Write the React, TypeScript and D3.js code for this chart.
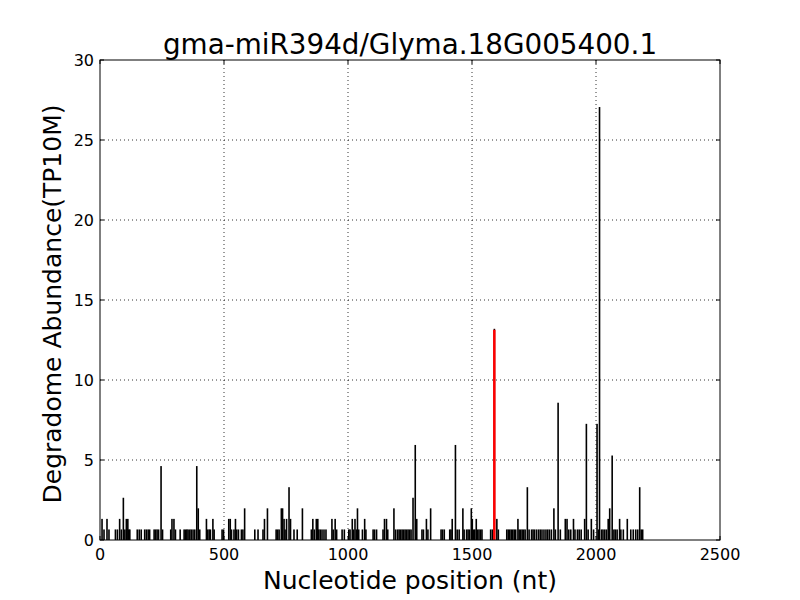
import React from "react";
import * as d3 from "d3";

const title = "gma-miR394d/Glyma.18G005400.1";
const xLabel = "Nucleotide position (nt)";
const yLabel = "Degradome Abundance(TP10M)";
const xTicks = [0, 500, 1000, 1500, 2000, 2500];
const yTicks = [0, 5, 10, 15, 20, 25, 30];

const positions = [
  8, 16, 28, 36, 62, 70, 79, 86, 94, 100, 106, 112, 116, 120, 150, 158, 166, 180, 187, 194, 200, 218, 224, 230, 236, 246, 252,
  285, 290, 298, 304, 323, 339, 345, 350, 355, 362, 368, 375, 382, 390, 396, 402, 429, 434, 440, 445, 455, 460, 492, 498,
  519, 525, 530, 540, 546, 551, 558, 570, 576, 583, 624, 637, 657, 663, 675, 710, 716, 722, 731, 736, 742, 746, 752, 762,
  768, 782, 795, 816, 852, 858, 864, 872, 878, 882, 888, 895, 903, 911, 935, 940, 948, 954, 976, 985, 1003, 1008, 1017,
  1022, 1028, 1034, 1038, 1043, 1058, 1067, 1072, 1101, 1107, 1115, 1141, 1147, 1155, 1160, 1185, 1192, 1200, 1206, 1212,
  1218, 1224, 1230, 1236, 1242, 1248, 1254, 1262, 1271, 1277, 1298, 1304, 1316, 1322, 1333, 1375, 1381, 1388, 1410, 1415,
  1420, 1433, 1440, 1448, 1463, 1468, 1478, 1484, 1490, 1497, 1501, 1506, 1511, 1517, 1522, 1528, 1534, 1540, 1575, 1582,
  1590, 1600, 1606, 1640, 1646, 1652, 1658, 1664, 1670, 1676, 1685, 1690, 1696, 1702, 1708, 1714, 1723, 1730, 1740, 1746,
  1752, 1760, 1768, 1775, 1782, 1790, 1798, 1805, 1812, 1820, 1830, 1836, 1847, 1856, 1876, 1883, 1890, 1898, 1909, 1915,
  1925, 1932, 1940, 1954, 1961, 1968, 1981, 1990, 2004, 2010, 2014, 2022, 2028, 2035, 2042, 2049, 2055, 2065, 2072, 2078,
  2085, 2095, 2100, 2110, 2126, 2140, 2150, 2160, 2168, 2176, 2182, 2188,
];
const abundances = [
  1.32, 0.66, 1.32, 0.66, 0.66, 0.66, 1.32, 0.66, 2.64, 0.66, 1.32, 1.32, 0.66, 0.66, 0.66, 0.66, 0.66, 0.66, 0.66, 0.66, 0.66, 0.66, 0.66, 0.66, 0.66, 4.62, 0.66,
  0.66, 1.32, 1.32, 0.66, 0.66, 0.66, 0.66, 0.66, 0.66, 0.66, 0.66, 0.66, 0.66, 4.62, 1.98, 0.66, 1.32, 0.66, 0.66, 0.66, 1.32, 0.66, 0.66, 0.66,
  1.32, 1.32, 0.66, 0.66, 1.32, 0.66, 0.66, 0.66, 0.66, 1.98, 0.66, 0.66, 0.66, 1.32, 1.98, 0.66, 0.66, 0.66, 1.98, 1.98, 1.32, 0.66, 1.32, 3.3,
  1.32, 0.66, 0.66, 1.98, 0.66, 1.32, 0.66, 1.32, 1.32, 0.66, 0.66, 0.66, 0.66, 0.66, 1.32, 0.66, 1.32, 0.66, 0.66, 0.66, 0.66, 0.66, 1.32,
  0.66, 1.32, 0.66, 1.98, 0.66, 0.66, 1.32, 0.66, 0.66, 0.66, 0.66, 0.66, 1.32, 1.32, 0.66, 1.98, 0.66, 0.66, 0.66, 0.66,
  0.66, 0.66, 0.66, 0.66, 0.66, 0.66, 0.66, 2.64, 5.94, 1.32, 0.66, 0.66, 1.32, 0.66, 1.98, 0.66, 0.66, 0.66, 0.66, 0.66,
  1.32, 5.94, 0.66, 0.66, 1.98, 0.66, 0.66, 0.66, 0.66, 1.98, 1.32, 0.66, 0.66, 1.32, 0.66, 0.66, 0.66, 0.66, 0.66, 0.66,
  13.2, 1.32, 0.66, 0.66, 0.66, 0.66, 0.66, 0.66, 0.66, 0.66, 1.32, 0.66, 0.66, 0.66, 0.66, 0.66, 3.3, 0.66, 0.66, 0.66,
  0.66, 0.66, 0.66, 0.66, 0.66, 0.66, 0.66, 0.66, 0.66, 0.66, 1.98, 0.66, 8.58, 0.66, 1.32, 1.32, 0.66, 0.66, 1.32, 0.66,
  0.66, 0.66, 0.66, 1.32, 7.26, 0.66, 1.32, 0.66, 7.26, 0.66, 27.06, 0.66, 0.66, 0.66, 0.66, 1.32, 1.98, 5.28, 0.66, 0.66,
  0.66, 1.32, 0.66, 0.66, 1.32, 0.66, 0.66, 0.66, 0.66, 3.3, 0.66, 0.66,
];
const targetPosition = 1590;
const targetAbundance = 13.2;

const W = 800, H = 600;
const L = 100, R = 720, T = 60, B = 540;
const font = "DejaVu Sans, sans-serif";

export default function App() {
  const x = d3.scaleLinear().domain([0, 2500]).range([L, R]);
  const y = d3.scaleLinear().domain([0, 30]).range([B, T]);
  const data = positions.map((p, i) => ({ p, v: abundances[i] }));

  return (
    <svg width={W} height={H} style={{ position: "absolute", left: 0, top: 0, background: "#fff" }} fontFamily={font}>
      <rect x={0} y={0} width={W} height={H} fill="#fff" />
      {xTicks.slice(1, -1).map((t) => (
        <line key={"gx" + t} x1={x(t)} x2={x(t)} y1={T} y2={B} stroke="#000" strokeWidth={0.8} strokeDasharray="1,3" />
      ))}
      {yTicks.slice(1, -1).map((t) => (
        <line key={"gy" + t} x1={L} x2={R} y1={y(t)} y2={y(t)} stroke="#000" strokeWidth={0.8} strokeDasharray="1,3" />
      ))}
      {data.map((d, i) => (
        <rect key={"b" + i} x={x(d.p) - 0.75} y={y(d.v)} width={1.6} height={B - y(d.v)} fill="#000" />
      ))}
      <line x1={x(targetPosition)} x2={x(targetPosition)} y1={y(targetAbundance) + 1} y2={B} stroke="#ff0000" strokeWidth={2.5} />
      <rect x={L} y={T} width={R - L} height={B - T} fill="none" stroke="#000" strokeWidth={1} />
      {xTicks.map((t) => (
        <g key={"tx" + t}>
          <line x1={x(t)} x2={x(t)} y1={B} y2={B - 4} stroke="#000" />
          <line x1={x(t)} x2={x(t)} y1={T} y2={T + 4} stroke="#000" />
          <text x={x(t)} y={560} fontSize={16} textAnchor="middle">{t}</text>
        </g>
      ))}
      {yTicks.map((t) => (
        <g key={"ty" + t}>
          <line x1={L} x2={L + 4} y1={y(t)} y2={y(t)} stroke="#000" />
          <line x1={R} x2={R - 4} y1={y(t)} y2={y(t)} stroke="#000" />
          <text x={94} y={y(t) + 6} fontSize={16} textAnchor="end">{t}</text>
        </g>
      ))}
      <text x={410} y={54} fontSize={27.8} textAnchor="middle">{title}</text>
      <text x={410} y={589} fontSize={25} textAnchor="middle">{xLabel}</text>
      <text transform={`translate(61,304) rotate(-90)`} fontSize={25} textAnchor="middle">{yLabel}</text>
    </svg>
  );
}
